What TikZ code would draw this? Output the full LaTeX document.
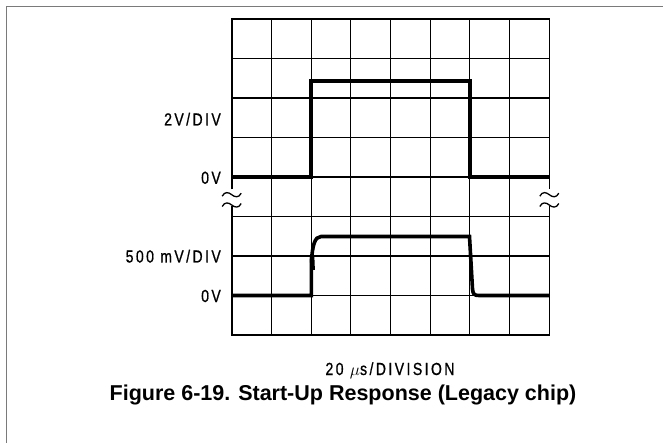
\documentclass[tikz,border=0pt]{standalone}
\usepackage{fontspec}
\setmainfont{Liberation Sans}
\newfontfamily\scopelblfont[FakeStretch=0.8,LetterSpace=14,FakeBold=0.8]{Liberation Sans}
\newfontfamily\capfont{Liberation Sans}

\begin{document}
\begin{tikzpicture}[x=1pt,y=-1pt,
  gridline/.style={line width=1.1pt,black},
  gridframe/.style={line width=1.6pt,black},
  trace/.style={line width=3.6pt,black,line join=miter},
  pageframe/.style={line width=1.4pt,color=black!52},
  breakmark/.style={line width=1.3pt,black},
  scalelbl/.style={font=\fontsize{17.5}{19}\selectfont\scopelblfont,inner sep=0pt,anchor=base east},
  timelbl/.style={font=\fontsize{17.5}{19}\selectfont\scopelblfont,inner sep=0pt,anchor=base},
  caption/.style={font=\fontsize{21.5}{24}\selectfont\capfont\bfseries,inner sep=0pt,anchor=base}]

\useasboundingbox (0,0) rectangle (663,443);
\fill[white] (0,0) rectangle (663,443);

% page frame (top and left edges)
\draw[pageframe] (6.7,443) -- (6.7,6.7) -- (663,6.7);

% graticule: inner divisions
\foreach \i in {1,...,7}
  \draw[gridline] ({231.7+\i*39.7},19) -- ({231.7+\i*39.7},335);
\foreach \j in {1,...,7}
  \draw[gridline] (231.7,{19+\j*39.5}) -- (549.3,{19+\j*39.5});

% graticule border, broken where the two channels meet
\draw[gridframe] (231.7,189.5) -- (231.7,19) -- (549.3,19) -- (549.3,189.5);
\draw[gridframe] (231.7,206) -- (231.7,335) -- (549.3,335) -- (549.3,206);

% axis-break marks
\foreach \cx in {231.7,549.3}
  \foreach \cy in {194.7,205}
    \draw[breakmark] ({\cx-9.5},{\cy+1.5}) .. controls ({\cx-7},{\cy-3.5}) and ({\cx-3},{\cy-2.5}) .. (\cx,\cy)
      .. controls ({\cx+3},{\cy+2.5}) and ({\cx+7},{\cy+3.5}) .. ({\cx+9.5},{\cy-1.5});

% upper trace: input step
\draw[trace] (231.7,177) -- (311.1,177) -- (311.1,81) -- (469.9,81) -- (469.9,177) -- (549.3,177);

% lower trace: output response
\draw[trace] (231.7,295.5) -- (311.3,295.5) -- (311.3,262)
  .. controls (312.5,246) and (314.5,236.5) .. (321,236.5)
  -- (469.5,236.5) -- (472.5,289)
  .. controls (473,294) and (474,295.5) .. (479,295.5) -- (549.3,295.5);
\draw[line width=4.6pt] (312,255.5) -- (312.6,270);

% channel labels
\node[scalelbl] (ch1scale) at (221,125.5) {2V/DIV};
\node[scalelbl] (ch1zero) at (221,183.8) {0V};
\node[scalelbl] (ch2scale) at (221,262.5) {500 mV/DIV};
\node[scalelbl] (ch2zero) at (221,302) {0V};

% time base and caption
\node[timelbl] (timebase) at (390,375) {20 $\mu$s/DIVISION};
\node[caption] (figcap) at (343,400.7) {Figure 6-19. Start-Up Response (Legacy chip)};
\end{tikzpicture}
\end{document}
